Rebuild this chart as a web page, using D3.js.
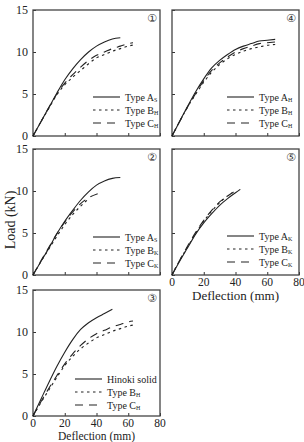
<!DOCTYPE html>
<html>
<head>
<meta charset="utf-8">
<script src="https://cdn.jsdelivr.net/npm/d3@7"></script>
<style>
body { margin: 0; background: #fff; }
svg { display: block; }
</style>
</head>
<body>
<svg id="chart" width="304" height="442"></svg>
<script>
// load-deflection curves, [deflection mm, load kN]
var xTicks = [0, 20, 40, 60, 80];
var yTicks = [0, 5, 10, 15];

var a1 = [[0,0],[5,1.7],[10,3.4],[15,5.1],[20,6.7],[25,8.0],[30,9.1],[35,10.0],[40,10.7],[45,11.2],[50,11.55],[55,11.7]];
var b1 = [[0,0],[5,1.7],[10,3.3],[15,4.9],[20,6.1],[25,7.0],[30,7.8],[35,8.6],[40,9.3],[45,9.7],[50,10.1],[55,10.4],[60,10.7],[65,10.9]];
var c1 = [[0,0],[5,1.7],[10,3.4],[15,5.0],[20,6.3],[25,7.3],[30,8.2],[35,9.0],[40,9.6],[45,10.0],[50,10.4],[55,10.7],[60,11.0],[63,11.1]];

var a2 = [[0,0],[5,1.6],[10,3.2],[15,4.9],[20,6.4],[25,7.7],[30,8.9],[35,9.9],[40,10.7],[45,11.2],[50,11.5],[55,11.6]];
var b2 = [[0,0],[5,1.6],[10,3.1],[15,4.6],[20,6.0],[25,7.2],[30,8.2],[34,8.9]];
var c2 = [[0,0],[5,1.7],[10,3.3],[15,4.9],[20,6.3],[25,7.5],[30,8.5],[35,9.2],[41,9.7]];

var a3 = [[0,0],[5,2.0],[10,4.0],[15,5.9],[20,7.6],[25,9.1],[30,10.3],[35,11.1],[40,11.7],[45,12.2],[50,12.7]];
var b3 = [[0,0],[5,1.6],[10,3.1],[15,4.6],[20,6.0],[25,7.1],[30,8.0],[35,8.7],[40,9.3],[45,9.7],[50,10.1],[55,10.4],[60,10.7],[65,10.9]];
var c3 = [[0,0],[5,1.7],[10,3.3],[15,4.8],[20,6.2],[25,7.4],[30,8.4],[35,9.2],[40,9.8],[45,10.2],[50,10.6],[55,10.9],[60,11.2],[63,11.3]];

var a4 = [[0,0],[5,1.8],[10,3.6],[15,5.3],[20,6.8],[25,8.1],[30,9.0],[35,9.7],[40,10.3],[45,10.7],[50,11.0],[55,11.3],[60,11.4],[65,11.5]];
var b4 = [[0,0],[5,1.8],[10,3.5],[15,5.0],[20,6.4],[25,7.6],[30,8.5],[35,9.2],[40,9.7],[45,10.1],[50,10.4],[55,10.6],[60,10.8],[65,10.9]];
var c4 = [[0,0],[5,1.8],[10,3.5],[15,5.1],[20,6.6],[25,7.8],[30,8.7],[35,9.4],[40,10.0],[45,10.4],[50,10.7],[55,11.0],[60,11.1],[65,11.2]];

var a5 = [[0,0],[5,1.7],[10,3.3],[15,4.9],[20,6.2],[25,7.3],[30,8.3],[35,9.1],[40,9.8],[43,10.2]];
var b5 = [[0,0],[5,1.8],[10,3.4],[15,5.0],[20,6.4],[25,7.6],[30,8.6],[35,9.4],[39,9.9]];
var c5 = [[0,0],[5,1.8],[10,3.5],[15,5.1],[20,6.5],[25,7.7],[30,8.7],[35,9.4],[38,9.8]];

var names1 = [["Type A", "S"], ["Type B", "H"], ["Type C", "H"]];
var names2 = [["Type A", "S"], ["Type B", "K"], ["Type C", "K"]];
var names3 = [["Hinoki solid", ""], ["Type B", "H"], ["Type C", "H"]];
var names4 = [["Type A", "H"], ["Type B", "H"], ["Type C", "H"]];
var names5 = [["Type A", "K"], ["Type B", "K"], ["Type C", "K"]];

var dashes = [null, "2.5,3.5", "8,6"];
var serif = "'Liberation Serif', 'Times New Roman', 'DejaVu Serif', serif";

var panels = [
	{id: "①", left: 33, top: 10, series: [a1, b1, c1], names: names1, leg: [93, 97], yLab: true, xLab: false},
	{id: "②", left: 33, top: 149, series: [a2, b2, c2], names: names2, leg: [93, 237], yLab: true, xLab: false},
	{id: "③", left: 33, top: 290, series: [a3, b3, c3], names: names3, leg: [75, 379], yLab: true, xLab: true},
	{id: "④", left: 172, top: 10, series: [a4, b4, c4], names: names4, leg: [227, 97], yLab: false, xLab: false},
	{id: "⑤", left: 172, top: 149, series: [a5, b5, c5], names: names5, leg: [227, 236], yLab: false, xLab: true}
];

var w = 127;
var h = 126;
var svg = d3.select("#chart")
	.attr("font-family", serif);

panels.forEach(function(p) {
	var x = d3.scaleLinear().domain([0, 80]).range([p.left, p.left + w]);
	var y = d3.scaleLinear().domain([0, 15]).range([p.top + h, p.top]);
	var g = svg.append("g");

	// inward ticks
	g.append("g").attr("transform", "translate(0," + (p.top + h) + ")")
		.call(d3.axisTop(x).tickValues(xTicks).tickSize(3).tickFormat(""));
	g.append("g").attr("transform", "translate(" + p.left + ",0)")
		.call(d3.axisRight(y).tickValues(yTicks).tickSize(3).tickFormat(""));
	g.selectAll(".domain").remove();
	g.selectAll(".tick line").attr("stroke", "#333").attr("stroke-width", 1);

	if (p.yLab) {
		g.selectAll(".ylab").data(yTicks).enter().append("text")
			.attr("x", p.left - 5)
			.attr("y", function(d) { return y(d) + 4; })
			.attr("text-anchor", "end")
			.attr("font-family", serif)
			.attr("font-size", 12)
			.attr("fill", "#222")
			.text(function(d) { return d; });
	}
	if (p.xLab) {
		g.selectAll(".xlab").data(xTicks).enter().append("text")
			.attr("x", function(d) { return x(d); })
			.attr("y", p.top + h + 11)
			.attr("text-anchor", "middle")
			.attr("font-family", serif)
			.attr("font-size", 11.5)
			.attr("fill", "#222")
			.text(function(d) { return d; });
		g.append("text")
			.attr("x", p.left + w / 2)
			.attr("y", Math.min(p.top + h + 25, 439.5))
			.attr("text-anchor", "middle")
			.attr("font-family", serif)
			.attr("font-size", p.top > 200 ? 11.5 : 13)
			.attr("fill", "#222")
			.text("Deflection (mm)");
	}

	g.append("rect")
		.attr("x", p.left).attr("y", p.top)
		.attr("width", w).attr("height", h)
		.attr("fill", "none").attr("stroke", "#444").attr("stroke-width", 1.3);

	var line = d3.line()
		.x(function(d) { return x(d[0]); })
		.y(function(d) { return y(d[1]); })
		.curve(d3.curveMonotoneX);

	p.series.forEach(function(s, i) {
		g.append("path")
			.attr("d", line(s))
			.attr("fill", "none")
			.attr("stroke", "#222")
			.attr("stroke-width", 1.1)
			.attr("stroke-dasharray", dashes[i]);
	});

	g.append("text")
		.attr("x", p.left + w - 8)
		.attr("y", p.top + 12)
		.attr("text-anchor", "middle")
		.attr("font-family", "'DejaVu Sans', sans-serif")
		.attr("font-size", 11)
		.attr("fill", "#333")
		.text(p.id);

	p.names.forEach(function(n, i) {
		var ly = p.leg[1] + i * 13;
		g.append("line")
			.attr("x1", p.leg[0]).attr("x2", p.leg[0] + 27)
			.attr("y1", ly).attr("y2", ly)
			.attr("stroke", "#222").attr("stroke-width", 1.1)
			.attr("stroke-dasharray", dashes[i]);
		var t = g.append("text")
			.attr("x", p.leg[0] + 32)
			.attr("y", ly + 3.5)
			.attr("font-family", serif)
			.attr("font-size", 10)
			.attr("fill", "#222")
			.text(n[0]);
		if (n[1]) {
			t.append("tspan").attr("dy", 1).attr("font-size", 6).text(n[1]);
		}
	});
});

svg.append("text")
	.attr("transform", "translate(15,220) rotate(-90)")
	.attr("text-anchor", "middle")
	.attr("font-family", serif)
	.attr("font-size", 14)
	.attr("fill", "#222")
	.text("Load (kN)");
</script>
</body>
</html>
